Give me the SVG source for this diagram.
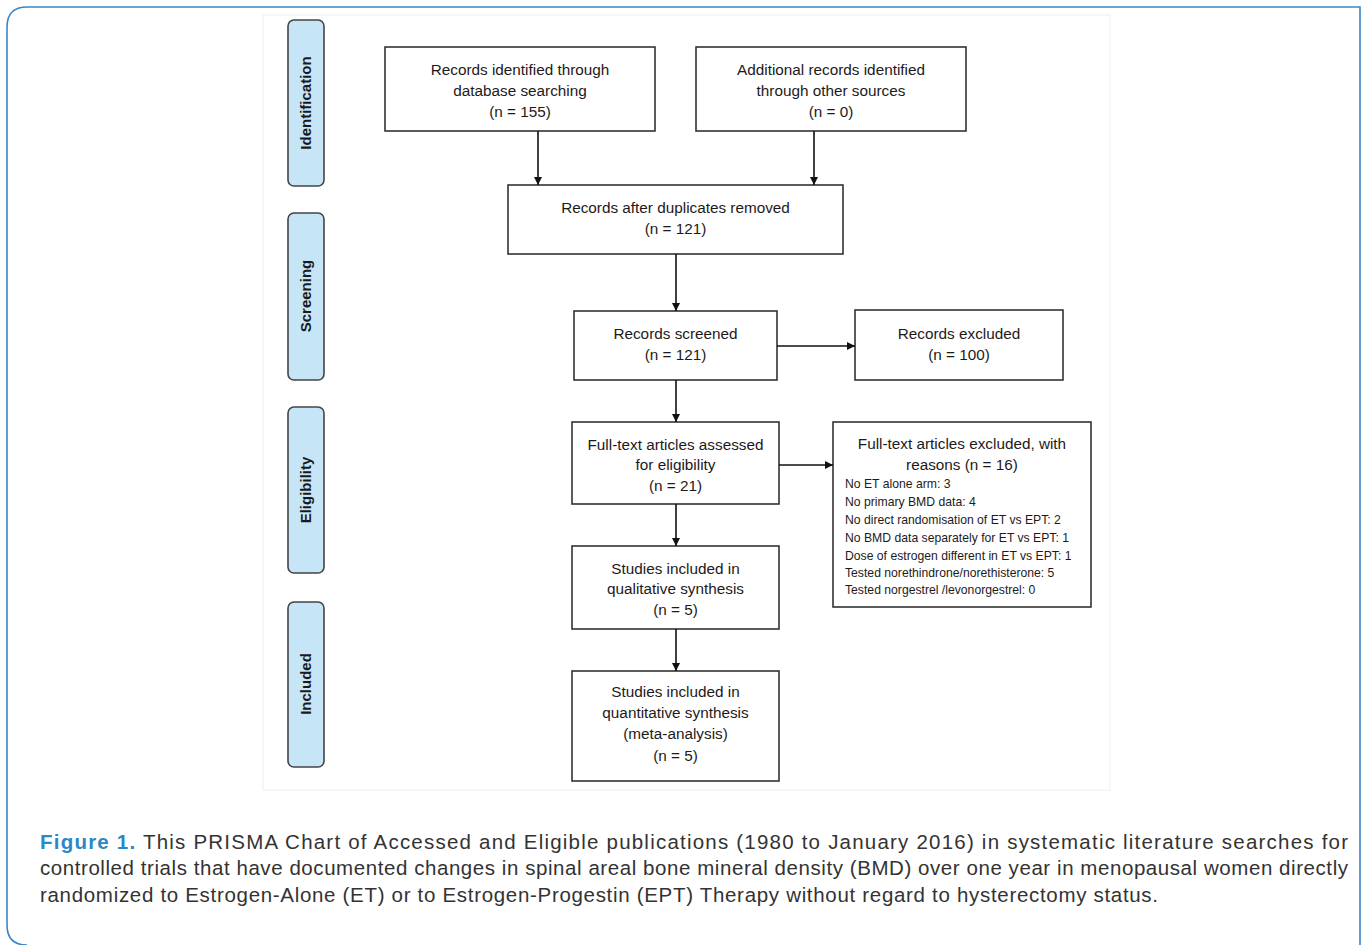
<svg xmlns="http://www.w3.org/2000/svg" width="1367" height="945" viewBox="0 0 1367 945">
<style>
.box{fill:#fff;stroke:#333;stroke-width:1.6}
.phase{fill:#c6e6f8;stroke:#444;stroke-width:1.6}
.t{font-family:"Liberation Sans",Arial,sans-serif;font-size:15.3px;fill:#1e1a1a;text-anchor:middle}
.ts{font-family:"Liberation Sans",Arial,sans-serif;font-size:12.2px;fill:#1e1a1a}
.pl{font-family:"Liberation Sans",Arial,sans-serif;font-size:15px;font-weight:bold;fill:#1a1a1a;text-anchor:middle}
.cap{font-family:"Liberation Sans",Arial,sans-serif;font-size:20.5px;fill:#333}
.conn{stroke:#111;stroke-width:1.6;fill:none;marker-end:url(#ah)}
</style>
<defs>
<marker id="ah" markerWidth="8" markerHeight="8" refX="8" refY="4" orient="auto" markerUnits="userSpaceOnUse">
<path d="M0,0 L8,4 L0,8 Z" fill="#111"/>
</marker>
</defs>
<rect x="0" y="0" width="1367" height="945" fill="#fff"/>
<path d="M1360,945 L1360,7 L27,7 Q7,7 7,27 L7,925 Q7,945 27,945" fill="none" stroke="#3a86c8" stroke-width="1.6"/>
<rect x="263" y="15" width="847" height="775" fill="#fff" stroke="#eeeeee" stroke-width="1"/>

<g id="phase-identification"><rect class="phase" x="288" y="20" width="36" height="166" rx="6"/><text class="pl" transform="translate(311,103) rotate(-90)">Identification</text></g>
<g id="phase-screening"><rect class="phase" x="288" y="213" width="36" height="167" rx="6"/><text class="pl" transform="translate(311,296) rotate(-90)">Screening</text></g>
<g id="phase-eligibility"><rect class="phase" x="288" y="407" width="36" height="166" rx="6"/><text class="pl" transform="translate(311,490) rotate(-90)">Eligibility</text></g>
<g id="phase-included"><rect class="phase" x="288" y="602" width="36" height="165" rx="6"/><text class="pl" transform="translate(311,684) rotate(-90)">Included</text></g>

<g id="n-database"><rect class="box" x="385" y="47" width="270" height="84"/>
<text class="t" x="520" y="75">Records identified through</text>
<text class="t" x="520" y="96">database searching</text>
<text class="t" x="520" y="117">(n = 155)</text></g>

<g id="n-other"><rect class="box" x="696" y="47" width="270" height="84"/>
<text class="t" x="831" y="75">Additional records identified</text>
<text class="t" x="831" y="96">through other sources</text>
<text class="t" x="831" y="117">(n = 0)</text></g>

<g id="n-dupes"><rect class="box" x="508" y="185" width="335" height="69"/>
<text class="t" x="675.5" y="213">Records after duplicates removed</text>
<text class="t" x="675.5" y="234">(n = 121)</text></g>

<g id="n-screened"><rect class="box" x="574" y="311" width="203" height="69"/>
<text class="t" x="675.5" y="339">Records screened</text>
<text class="t" x="675.5" y="360">(n = 121)</text></g>

<g id="n-excluded"><rect class="box" x="855" y="310" width="208" height="70"/>
<text class="t" x="959" y="339">Records excluded</text>
<text class="t" x="959" y="360">(n = 100)</text></g>

<g id="n-fulltext"><rect class="box" x="572" y="422" width="207" height="82"/>
<text class="t" x="675.5" y="450">Full-text articles assessed</text>
<text class="t" x="675.5" y="470">for eligibility</text>
<text class="t" x="675.5" y="491">(n = 21)</text></g>

<g id="n-ftexcluded"><rect class="box" x="833" y="422" width="258" height="185"/>
<text class="t" x="962" y="449">Full-text articles excluded, with</text>
<text class="t" x="962" y="470">reasons (n = 16)</text>
<text class="ts" x="845" y="488">No ET alone arm: 3</text>
<text class="ts" x="845" y="506">No primary BMD data: 4</text>
<text class="ts" x="845" y="524">No direct randomisation of ET vs EPT: 2</text>
<text class="ts" x="845" y="542">No BMD data separately for ET vs EPT: 1</text>
<text class="ts" x="845" y="560">Dose of estrogen different in ET vs EPT: 1</text>
<text class="ts" x="845" y="577">Tested norethindrone/norethisterone: 5</text>
<text class="ts" x="845" y="594">Tested norgestrel /levonorgestrel: 0</text></g>

<g id="n-qual"><rect class="box" x="572" y="546" width="207" height="83"/>
<text class="t" x="675.5" y="574">Studies included in</text>
<text class="t" x="675.5" y="594">qualitative synthesis</text>
<text class="t" x="675.5" y="615">(n = 5)</text></g>

<g id="n-quant"><rect class="box" x="572" y="671" width="207" height="110"/>
<text class="t" x="675.5" y="697">Studies included in</text>
<text class="t" x="675.5" y="718">quantitative synthesis</text>
<text class="t" x="675.5" y="739">(meta-analysis)</text>
<text class="t" x="675.5" y="761">(n = 5)</text></g>

<g id="connectors">
<path class="conn" d="M538,131 L538,185"/>
<path class="conn" d="M814,131 L814,185"/>
<path class="conn" d="M676,254 L676,311"/>
<path class="conn" d="M777,346 L855,346"/>
<path class="conn" d="M676,380 L676,422"/>
<path class="conn" d="M779,465 L833,465"/>
<path class="conn" d="M676,504 L676,546"/>
<path class="conn" d="M676,629 L676,671"/>
</g>

<g id="caption">
<text class="cap" x="40" y="849" textLength="1308" lengthAdjust="spacing"><tspan fill="#2a87c8" font-weight="bold">Figure 1.</tspan> This PRISMA Chart of Accessed and Eligible publications (1980 to January 2016) in systematic literature searches for</text>
<text class="cap" x="40" y="875" textLength="1308" lengthAdjust="spacing">controlled trials that have documented changes in spinal areal bone mineral density (BMD) over one year in menopausal women directly</text>
<text class="cap" x="40" y="902" textLength="1118" lengthAdjust="spacing">randomized to Estrogen-Alone (ET) or to Estrogen-Progestin (EPT) Therapy without regard to hysterectomy status.</text>
</g>
</svg>
